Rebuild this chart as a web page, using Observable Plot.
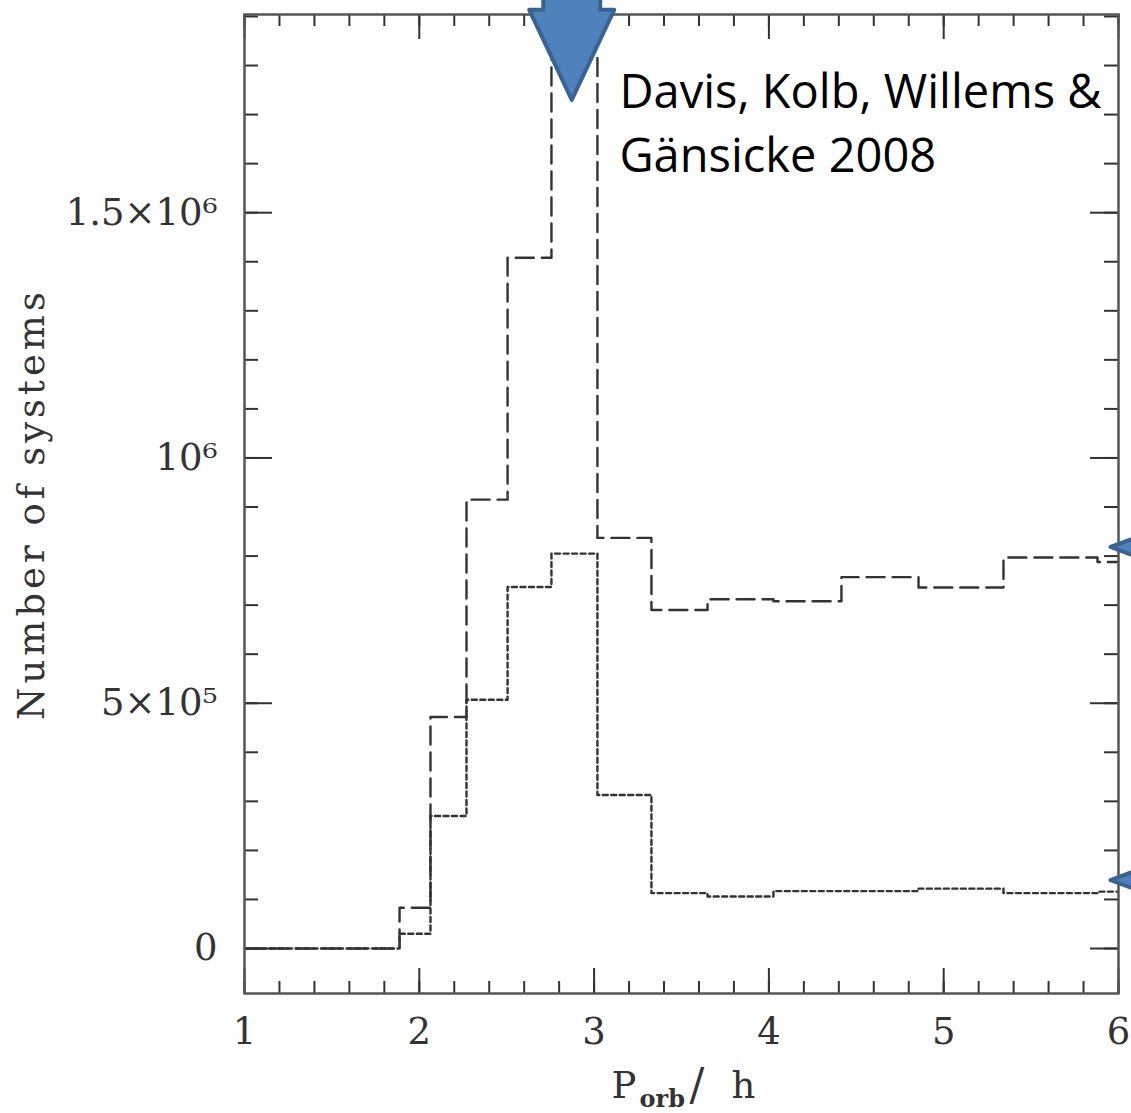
<!DOCTYPE html>
<html>
<head>
<meta charset="utf-8">
<script src="https://cdn.jsdelivr.net/npm/d3@7"></script>
<script src="https://cdn.jsdelivr.net/npm/@observablehq/plot@0.6"></script>
<style>
  html, body { margin: 0; padding: 0; overflow: hidden; background: #fff; }
</style>
</head>
<body>
<div id="chart"></div>
<script>
// Orbital-period histogram of the simulated CV population (number of systems per bin).
// Left edges of the period bins, in hours; the final value closes the last bin at the plot edge.
const binEdges = [1.0, 1.887, 2.064, 2.270, 2.505, 2.756, 3.019, 3.328, 3.649, 4.026, 4.415, 4.856, 5.342, 5.880, 6.0];

// Dashed histogram (whole population) and dotted histogram (subset), one count per bin.
const countsDashed = [0, 83000, 472000, 915000, 1408000, 1820000, 837000, 690000, 712000, 708000, 757000, 736000, 797000, 788000];
const countsDotted = [0, 30000, 270000, 507000, 737000, 805000, 313000, 113000, 106000, 117000, 117000, 122000, 113000, 116000];

// Axis ticks and labels
const xTickValues = [1, 2, 3, 4, 5, 6];
const yTickValues = [0, 500000, 1000000, 1500000];
const yTickLabels = ["0", "5×10⁵", "10⁶", "1.5×10⁶"];

// Citation text and callout arrows (positions in data units)
const citationLines = ["Davis, Kolb, Willems &", "Gänsicke 2008"];
const citationX = 3.145;
const citationY = 1805000;
const downArrowX = [2.875];
const downArrowY = [1729000];
const sideArrowX = [5.957, 5.957];
const sideArrowY = [817500, 138600];

const xDomain = [1, 6];
const yDomain = [-91700, 1904000];

// Build step rows: each bin starts at its left edge; the last edge repeats the last count.
function stepRows(counts) {
  const rows = counts.map((n, i) => ({p: binEdges[i], n}));
  rows.push({p: binEdges[binEdges.length - 1], n: counts[counts.length - 1]});
  return rows;
}

const W = 1131, H = 1113;
const mL = 244, mR = 13, mT = 14, mB = 120;
const frameW = W - mL - mR, frameH = H - mT - mB;

const xMinor = d3.range(0, 26).map(i => +(1 + i * 0.2).toFixed(2));
const yMinor = d3.range(0, 20).map(i => i * 100000);
const xMajor = xTickValues;
const yMajor = yTickValues;

const tickColor = "#333";
const labelMap = new Map(yTickValues.map((v, i) => [v, yTickLabels[i]]));

// Callout arrow drawn as a polygon around a data-space tip
function arrowMark(xs, ys, shape) {
  return (index, scales) => {
    const g = d3.create("svg:g");
    xs.forEach((xv, i) => {
      const px = scales.x(xv), py = scales.y(ys[i]);
      g.append("path")
        .attr("d", d3.line()(shape.map(([dx, dy]) => [px + dx, py + dy])) + "Z")
        .attr("fill", "#4f81bd")
        .attr("stroke", "#3b6392")
        .attr("stroke-width", 4)
        .attr("stroke-linejoin", "round");
    });
    return g.node();
  };
}
const downShape = [[0, 0], [-42.5, -90], [-28.5, -90], [-28.5, -160], [28.5, -160], [28.5, -90], [42.5, -90]];
const sideShape = [[0, 0], [60, -22], [60, -12], [130, -12], [130, 12], [60, 12], [60, 22]];

const chart = Plot.plot({
  width: W,
  height: H,
  marginLeft: mL,
  marginRight: mR,
  marginTop: mT,
  marginBottom: mB,
  style: {fontFamily: "DejaVu Serif", fontSize: "37px", color: "#333", background: "#fff"},
  x: {domain: xDomain, label: null},
  y: {domain: yDomain, label: null},
  marks: [
    // histograms
    Plot.line(stepRows(countsDotted), {x: "p", y: "n", curve: "step-after", stroke: "#333", strokeWidth: 2.4, strokeDasharray: "5,3.5", clip: true}),
    Plot.line(stepRows(countsDashed), {x: "p", y: "n", curve: "step-after", stroke: "#333", strokeWidth: 2.4, strokeDasharray: "18,8", clip: true}),

    // inward ticks on all four sides
    Plot.ruleX(xMinor, {stroke: tickColor, strokeWidth: 2, insetTop: frameH - 12}),
    Plot.ruleX(xMinor, {stroke: tickColor, strokeWidth: 2, insetBottom: frameH - 12}),
    Plot.ruleX(xMajor, {stroke: tickColor, strokeWidth: 2, insetTop: frameH - 25}),
    Plot.ruleX(xMajor, {stroke: tickColor, strokeWidth: 2, insetBottom: frameH - 25}),
    Plot.ruleY(yMinor, {stroke: tickColor, strokeWidth: 2, insetRight: frameW - 14}),
    Plot.ruleY(yMinor, {stroke: tickColor, strokeWidth: 2, insetLeft: frameW - 14}),
    Plot.ruleY(yMajor, {stroke: tickColor, strokeWidth: 2, insetRight: frameW - 28}),
    Plot.ruleY(yMajor, {stroke: tickColor, strokeWidth: 2, insetLeft: frameW - 28}),
    Plot.frame({stroke: "#555", strokeWidth: 2.5}),

    // tick labels
    Plot.axisX({ticks: xTickValues, tickSize: 0, tickPadding: 24, tickFormat: d => String(d), label: null}),
    Plot.axisY({ticks: yTickValues, tickSize: 0, tickPadding: 27, tickFormat: d => labelMap.get(d), label: null}),

    // axis titles
    Plot.text(["Number of systems"], {frameAnchor: "left", textAnchor: "middle", lineAnchor: "middle", dx: -212, rotate: -90, text: d => d, fontSize: 37, fill: "#333"}),
    Plot.text(["P"], {frameAnchor: "bottom", textAnchor: "start", lineAnchor: "bottom", dx: -70, dy: 104, text: d => d, fontSize: 37, fill: "#333"}),
    Plot.text(["orb"], {frameAnchor: "bottom", textAnchor: "start", lineAnchor: "bottom", dx: -42, dy: 113, text: d => d, fontSize: 24, fontWeight: 600, fill: "#333"}),
    Plot.text(["/"], {frameAnchor: "bottom", textAnchor: "start", lineAnchor: "bottom", dx: 8, dy: 106, text: d => d, fontSize: 44, fill: "#333"}),
    Plot.text(["h"], {frameAnchor: "bottom", textAnchor: "start", lineAnchor: "bottom", dx: 50, dy: 104, text: d => d, fontSize: 37, fill: "#333"}),

    // citation
    Plot.text([citationLines.join("\n")], {x: () => citationX, y: () => citationY, text: d => d, textAnchor: "start", lineAnchor: "top", lineHeight: 1.36, fontFamily: "Open Sans", fontSize: 47, fill: "#000"}),

    // callout arrows
    arrowMark(downArrowX, downArrowY, downShape),
    arrowMark(sideArrowX, sideArrowY, sideShape)
  ]
});

d3.select(chart).selectAll("text")
  .filter(function () { return this.textContent === "Number of systems"; })
  .attr("letter-spacing", "4px");

document.getElementById("chart").appendChild(chart);
</script>
</body>
</html>
